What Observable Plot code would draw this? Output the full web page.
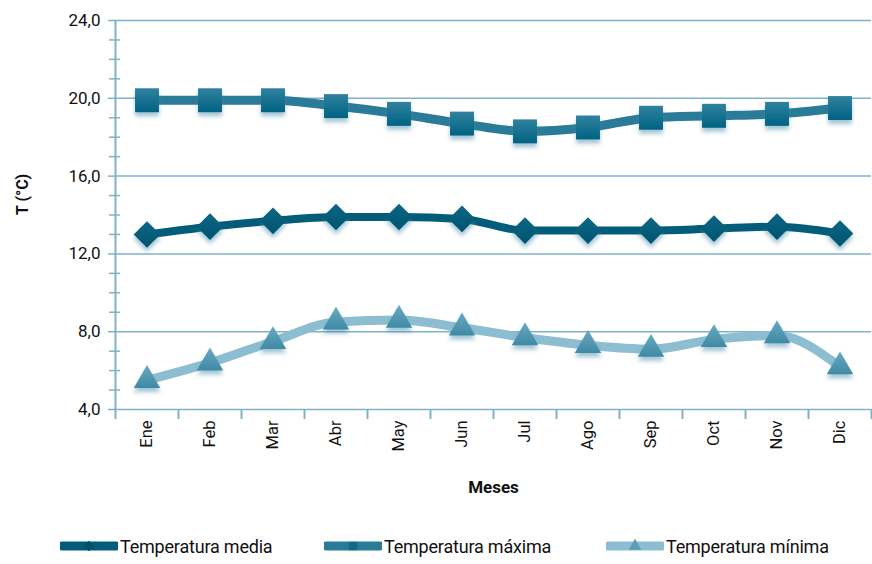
<!DOCTYPE html>
<html><head><meta charset="utf-8">
<script src="https://cdn.jsdelivr.net/npm/d3@7"></script>
<script src="https://cdn.jsdelivr.net/npm/@observablehq/plot@0.6"></script>
<style>
body{margin:0;background:#fff;font-family:Roboto,"Noto Sans",sans-serif;}
#chart{width:872px;}
.shadow{filter:drop-shadow(0px 4px 2px rgba(70,140,170,0.5));}
#legend{position:relative;width:872px;height:24px;margin-top:30px;}
.item{position:absolute;top:0;display:flex;align-items:center;font-size:18px;color:#111;letter-spacing:-0.2px;}
.item svg{display:block;margin-right:2px;}
</style></head><body>
<div id="chart"></div>
<div id="legend"></div>
<script>
const months = ["Ene","Feb","Mar","Abr","May","Jun","Jul","Ago","Sep","Oct","Nov","Dic"];
const tMedia = [13.0,13.4,13.7,13.9,13.9,13.8,13.2,13.2,13.2,13.3,13.4,13.05];
const tMax = [19.9,19.9,19.9,19.6,19.2,18.7,18.3,18.5,19.0,19.1,19.2,19.5];
const tMin = [5.5,6.4,7.5,8.5,8.6,8.2,7.7,7.3,7.1,7.6,7.8,6.2];
const yMajor = [4,8,12,16,20,24];
const yMinor = [5,6,7,9,10,11,13,14,15,17,18,19,21,22,23];
const seriesNames = ["Temperatura media","Temperatura máxima","Temperatura mínima"];

const cMedia = "#035c7a", cMax = "#2a7b98", cMinLine = "#8cbdd1", cMinMark = "#4f96b0";
const gridColor = "#7fb2c9";

const rows = months.map((m,i)=>({pos:i+0.5, month:m, media:tMedia[i], max:tMax[i], min:tMin[i]}));
const centers = rows.map(d=>d.pos);
const bounds = d3.range(0, months.length+1);
const fmt = v => d3.format(".1f")(v).replace(".", ",");

const svg = Plot.plot({
  width: 872, height: 505,
  marginTop: 20, marginBottom: 96, marginLeft: 115, marginRight: 1,
  style: {fontFamily: "Roboto, 'Noto Sans', sans-serif", color: "#111"},
  x: {type: "linear", domain: [0, months.length], axis: null},
  y: {domain: [4, 24], axis: null},
  marks: [
    Plot.gridY(yMajor, {stroke: gridColor, strokeOpacity: 1, strokeWidth: 1.5}),
    Plot.axisY(yMajor, {tickSize: 7, tickPadding: 8, tickFormat: fmt, stroke: gridColor, strokeWidth: 1.5, fontSize: 17, fill: "#111", label: null}),
    Plot.axisY(yMinor, {tickSize: 11, dx: 5, tickFormat: () => "", stroke: gridColor, strokeWidth: 1.5, label: null}),
    Plot.ruleX([0], {y1: 24, y2: 4, stroke: gridColor, strokeWidth: 2, insetBottom: -10}),
    Plot.axisX(bounds.slice(1), {tickSize: 10, tickFormat: () => "", stroke: gridColor, strokeWidth: 2, label: null}),
    Plot.axisX(centers, {tickSize: 0, tickPadding: 11, tickRotate: -90, tickFormat: d => months[Math.floor(d)], fontSize: 16.5, fill: "#111", label: null}),
    Plot.text(["Meses"], {frameAnchor: "bottom", dy: 83, fontSize: 17, fontWeight: "bold", fill: "#111"}),
    Plot.text(["T (°C)"], {frameAnchor: "left", dx: -93, rotate: -90, fontSize: 16, fontWeight: "bold", fill: "#111"}),
    Plot.line(rows, {x: "pos", y: "max", stroke: cMax, strokeWidth: 9, curve: "monotone-x"}),
    Plot.line(rows, {x: "pos", y: "media", stroke: cMedia, strokeWidth: 8, curve: "monotone-x"}),
    Plot.line(rows, {x: "pos", y: "min", stroke: cMinLine, strokeWidth: 9, curve: "monotone-x"}),
    Plot.dot(rows, {x: "pos", y: "max", symbol: "square", r: 13.5, fill: "url(#gMax)", stroke: "none", className: "shadow"}),
    Plot.dot(rows, {x: "pos", y: "media", symbol: "diamond2", r: 12, fill: "url(#gMedia)", stroke: "none", className: "shadow"}),
    Plot.dot(rows, {x: "pos", y: "min", symbol: "triangle", r: 9.8, fill: "url(#gMin)", stroke: "none", className: "shadow"})
  ]
});

const defs = d3.select(svg).insert("defs", ":first-child");
function grad(id, top, bottom){
  const g = defs.append("linearGradient").attr("id", id).attr("x1",0).attr("y1",0).attr("x2",0).attr("y2",1);
  g.append("stop").attr("offset","0%").attr("stop-color", top);
  g.append("stop").attr("offset","100%").attr("stop-color", bottom);
}
grad("gMax", "#2f829f", "#006282");
grad("gMedia", "#0b6685", "#00546f");
grad("gMin", "#6aa9c1", "#3f89a5");
document.getElementById("chart").appendChild(svg);

// legend
const legendItems = [
  {name: seriesNames[0], line: cMedia, mark: "#00506a", sym: d3.symbolDiamond2, left: 60},
  {name: seriesNames[1], line: cMax, mark: "#0f6a89", sym: d3.symbolSquare, left: 324},
  {name: seriesNames[2], line: cMinLine, mark: "#5a9db6", sym: d3.symbolTriangle, left: 606}
];
const legend = d3.select("#legend");
for (const it of legendItems) {
  const div = legend.append("div").attr("class","item").style("left", it.left + "px");
  const s = div.append("svg").attr("width", 58).attr("height", 22);
  s.append("line").attr("x1",2).attr("x2",56).attr("y1",11).attr("y2",11)
    .attr("stroke", it.line).attr("stroke-width", 9).attr("stroke-linecap","round");
  s.append("path").attr("d", d3.symbol(it.sym, 70)()).attr("transform","translate(29,11)").attr("fill", it.mark);
  div.append("span").text(it.name);
}
</script>
</body></html>
